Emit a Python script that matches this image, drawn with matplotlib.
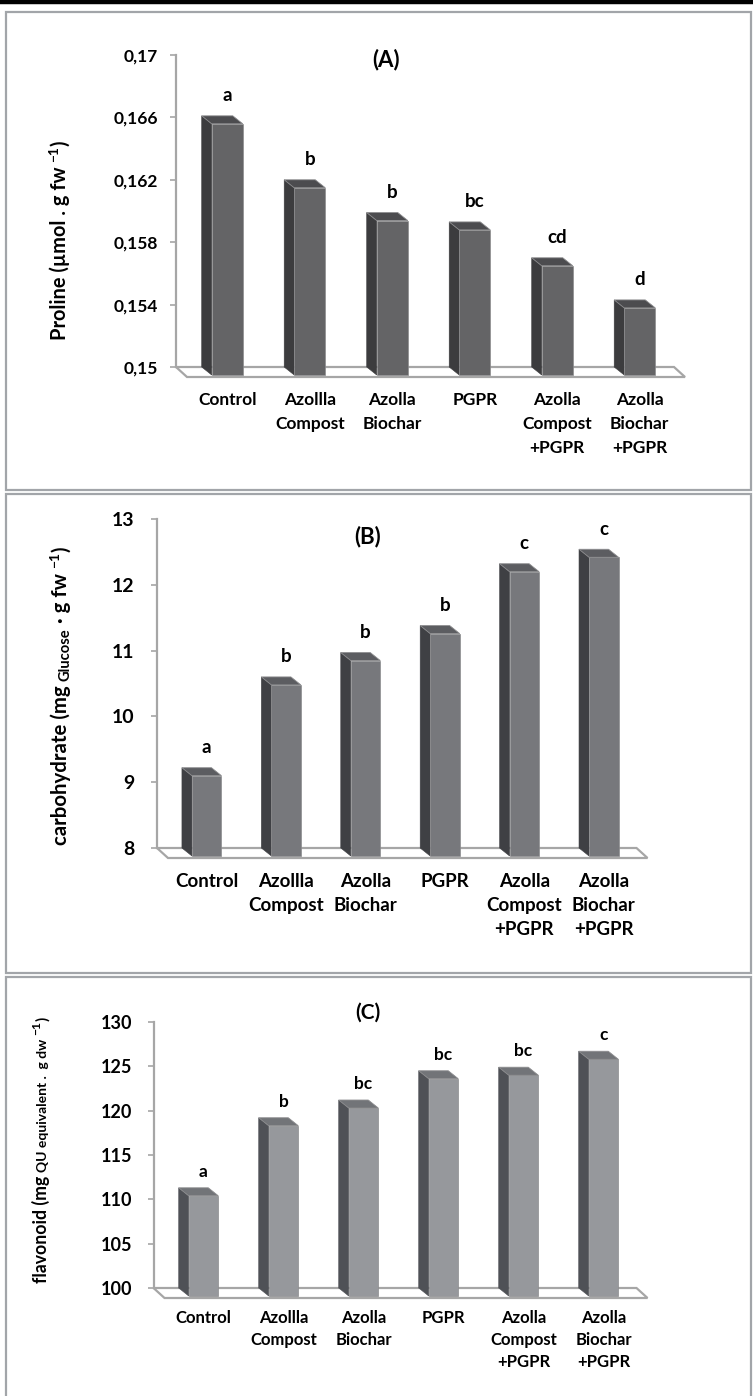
import matplotlib
matplotlib.use("Agg")
import matplotlib.pyplot as plt
from matplotlib.patches import Polygon, Rectangle
from matplotlib.lines import Line2D
import numpy as np

# ---------------- data ----------------
categories = ["Control", "Azollla\nCompost", "Azolla\nBiochar", "PGPR",
              "Azolla\nCompost\n+PGPR", "Azolla\nBiochar\n+PGPR"]

proline = [0.1661, 0.1620, 0.1599, 0.1593, 0.1570, 0.1543]
proline_letters = ["a", "b", "b", "bc", "cd", "d"]
proline_ticks = [0.15, 0.154, 0.158, 0.162, 0.166, 0.17]
proline_ticklabels = ["0,15", "0,154", "0,158", "0,162", "0,166", "0,17"]

carbohydrate = [9.22, 10.60, 10.97, 11.38, 12.32, 12.54]
carbohydrate_letters = ["a", "b", "b", "b", "c", "c"]
carbohydrate_ticks = [8, 9, 10, 11, 12, 13]
carbohydrate_ticklabels = ["8", "9", "10", "11", "12", "13"]

flavonoid = [111.3, 119.2, 121.2, 124.5, 124.9, 126.7]
flavonoid_letters = ["a", "b", "bc", "bc", "bc", "c"]
flavonoid_ticks = [100, 105, 110, 115, 120, 125, 130]
flavonoid_ticklabels = ["100", "105", "110", "115", "120", "125", "130"]

# ---------------- figure ----------------
W, H = 753, 1396
fig = plt.figure(figsize=(W / 100, H / 100), dpi=100)
FAM = ["Lato", "DejaVu Sans"]
plt.rcParams["font.family"] = FAM


def fx(x):
    return x / W


def fy(y):
    return 1 - y / H


def px_axes(left, right, top, bottom):
    return fig.add_axes([fx(left), fy(bottom), (right - left) / W, (bottom - top) / H])


GRID = "#a6a6a6"
BORDER = "#a2a5a9"

# panel borders
for (t, b) in [(12, 490), (494, 973), (977, 1402)]:
    fig.add_artist(Rectangle((fx(6), fy(b)), (751 - 6) / W, (b - t) / H,
                             transform=fig.transFigure, fill=False,
                             edgecolor=BORDER, lw=1.6))
fig.add_artist(Line2D([0, 1], [fy(2), fy(2)], transform=fig.transFigure,
                      color="black", lw=3.2))


def panel(values, letters, ticks, ticklabels, geom, colors, fs):
    left, right, top, bottom = geom["box"]
    ax = px_axes(left, right, top, bottom)
    n = len(values)
    ymin, ymax = ticks[0], ticks[-1]
    ax.set_xlim(-0.5, n - 0.5)
    ax.set_ylim(ymin, ymax)
    ppc = (right - left) / n              # pixels per category
    ppu = (bottom - top) / (ymax - ymin)  # pixels per value unit
    ddx = geom["dx"] / ppc
    ddy = geom["dy"] / ppu
    fdx = geom["fdx"] / ppc
    fdy = geom["fdy"] / ppu
    ext = 3 / ppc
    w = geom["w"]
    # floor
    floor = Polygon([(-0.5, ymin), (n - 0.5 + ext, ymin),
                     (n - 0.5 + ext + fdx, ymin - fdy), (-0.5 + fdx, ymin - fdy)],
                    closed=True, facecolor="white", edgecolor=GRID, lw=1.6,
                    clip_on=False, zorder=1)
    ax.add_patch(floor)
    front_c, side_c, top_c = colors
    for i, v in enumerate(values):
        xl, xr = i - w / 2, i + w / 2
        side = Polygon([(xl, v), (xl + ddx, v - ddy), (xl + ddx, ymin - ddy), (xl, ymin)],
                       closed=True, facecolor=side_c, edgecolor=side_c, lw=0.4,
                       clip_on=False, zorder=3)
        topf = Polygon([(xl, v), (xr, v), (xr + ddx, v - ddy), (xl + ddx, v - ddy)],
                       closed=True, facecolor=top_c, edgecolor="#8c8c8e", lw=0.6,
                       clip_on=False, zorder=3)
        front = Rectangle((xl + ddx, ymin - ddy), w, v - ymin, facecolor=front_c,
                          edgecolor="#8c8c8e", lw=0.5, clip_on=False, zorder=3)
        ax.add_patch(side)
        ax.add_patch(front)
        ax.add_patch(topf)
        ax.annotate(letters[i], xy=(i + ddx, v - ddy), xytext=(0, geom["lab_off"]),
                    textcoords="offset pixels", ha="center", va="center",
                    fontsize=fs["letter"], fontweight="bold", annotation_clip=False)
    for s in ["top", "right", "bottom"]:
        ax.spines[s].set_visible(False)
    ax.spines["left"].set_color(GRID)
    ax.spines["left"].set_linewidth(1.6)
    ax.set_yticks(ticks)
    ax.set_yticklabels(ticklabels, fontsize=fs["ytick"], fontweight="bold")
    ax.tick_params(axis="y", direction="out", length=4.3, width=1.2, color=GRID,
                   pad=geom["ypad"])
    ax.set_xticks(np.arange(n) + ddx)
    ax.set_xticklabels(categories, fontsize=fs["xtick"], fontweight="bold",
                       linespacing=geom["ls"], va="top")
    ax.tick_params(axis="x", length=0, pad=geom["xpad"])
    ax.patch.set_visible(False)
    return ax


def vlabel(pieces, bx, cy, target):
    renderer = fig.canvas.get_renderer()

    def measure(scale):
        out = []
        for s, size, sh in pieces:
            t1 = fig.text(0, 0, s + "|", fontsize=size * scale, fontweight="bold")
            t2 = fig.text(0, 0, "|", fontsize=size * scale, fontweight="bold")
            out.append(t1.get_window_extent(renderer).width
                       - t2.get_window_extent(renderer).width)
            t1.remove()
            t2.remove()
        return out

    scale = target / sum(measure(1.0))
    widths = measure(scale)
    L = sum(widths)
    y = cy + L / 2
    for (s, size, sh), wd in zip(pieces, widths):
        fig.text(fx(bx - sh * scale), fy(y), s, fontsize=size * scale, fontweight="bold",
                 rotation=90, rotation_mode="anchor", ha="left", va="baseline")
        y -= wd


# Panel A
panel(proline, proline_letters, proline_ticks, proline_ticklabels,
      dict(box=(176, 671, 55, 367), dx=10, dy=8, fdx=11, fdy=10, w=0.377,
           lab_off=28, ypad=8.5, xpad=18, ls=1.6),
      ("#646466", "#3c3c3e", "#4c4c4f"),
      dict(letter=13.5, ytick=12.5, xtick=12.5))
fig.text(fx(386), fy(60), "(A)", fontsize=16, fontweight="bold", ha="center", va="center")
vlabel([("Proline (µmol . g fw ", 11, 0), ("−1", 7.5, 6), (")", 11, 0)], 66, 240, 200)

# Panel B
panel(carbohydrate, carbohydrate_letters, carbohydrate_ticks, carbohydrate_ticklabels,
      dict(box=(157, 633.5, 519, 848), dx=10, dy=8, fdx=11, fdy=10, w=0.372,
           lab_off=28, ypad=12, xpad=18, ls=1.5),
      ("#77787c", "#3f4044", "#5c5d61"),
      dict(letter=13.5, ytick=14, xtick=13.5))
fig.text(fx(368), fy(537), "(B)", fontsize=16, fontweight="bold", ha="center", va="center")
vlabel([("carbohydrate (mg ", 11, 0), ("Glucose", 8, -2), (" · g fw ", 11, 0),
        ("−1", 7.5, 6), (")", 11, 0)], 67, 696, 298)

# Panel C
panel(flavonoid, flavonoid_letters, flavonoid_ticks, flavonoid_ticklabels,
      dict(box=(153.5, 633.5, 1022, 1288), dx=10, dy=8, fdx=11, fdy=10, w=0.37,
           lab_off=24, ypad=11, xpad=16, ls=1.45),
      ("#96989c", "#4f5156", "#727478"),
      dict(letter=12.5, ytick=13, xtick=12))
fig.text(fx(368), fy(1013), "(C)", fontsize=15, fontweight="bold", ha="center", va="center")
vlabel([("flavonoid (mg ", 9.5, 0), ("QU equivalent .  g dw ", 7.5, 0),
        ("−1", 6.5, 5), (")", 8, 0)], 47, 1150, 267)

fig.savefig("out.png", dpi=100)
